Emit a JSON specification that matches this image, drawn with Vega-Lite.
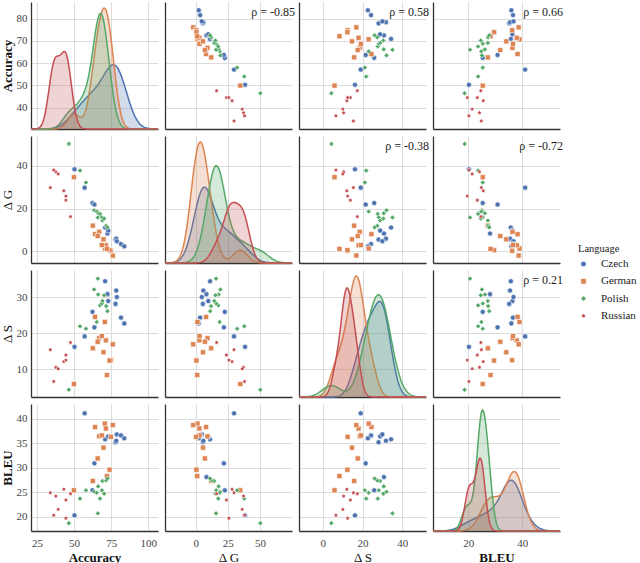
{
"$schema":"https://vega.github.io/schema/vega-lite/v6.json",
"padding":{"left":1,"top":2,"right":0,"bottom":0},
"data":{"values":[
{"Language":"Czech","Accuracy":50.3,"DG":38.4,"DS":16.2,"BLEU":20.3},
{"Language":"Czech","Accuracy":57.1,"DG":29.8,"DS":19.1,"BLEU":41.1},
{"Language":"Czech","Accuracy":62.4,"DG":22.6,"DS":25.9,"BLEU":25.4},
{"Language":"Czech","Accuracy":63.7,"DG":21.9,"DS":21.6,"BLEU":30.9},
{"Language":"Czech","Accuracy":70.9,"DG":11.1,"DS":34.4,"BLEU":35.8},
{"Language":"Czech","Accuracy":72.5,"DG":8.3,"DS":30.8,"BLEU":28.1},
{"Language":"Czech","Accuracy":73.0,"DG":9.7,"DS":28.9,"BLEU":36.4},
{"Language":"Czech","Accuracy":77.9,"DG":5.5,"DS":28.1,"BLEU":35.2},
{"Language":"Czech","Accuracy":78.4,"DG":5.9,"DS":31.8,"BLEU":35.5},
{"Language":"Czech","Accuracy":78.8,"DG":4.7,"DS":30.0,"BLEU":36.8},
{"Language":"Czech","Accuracy":81.6,"DG":3.4,"DS":24.3,"BLEU":36.6},
{"Language":"Czech","Accuracy":83.8,"DG":2.3,"DS":22.7,"BLEU":36.0},
{"Language":"German","Accuracy":64.1,"DG":8.0,"DS":24.5,"BLEU":38.3},
{"Language":"German","Accuracy":70.7,"DG":1.3,"DS":23.1,"BLEU":39.0},
{"Language":"German","Accuracy":71.4,"DG":2.8,"DS":18.0,"BLEU":38.0},
{"Language":"German","Accuracy":76.1,"DG":-2.0,"DS":16.9,"BLEU":38.7},
{"Language":"German","Accuracy":66.9,"DG":9.1,"DS":18.6,"BLEU":36.4},
{"Language":"German","Accuracy":68.7,"DG":2.9,"DS":19.2,"BLEU":36.6},
{"Language":"German","Accuracy":74.8,"DG":0.2,"DS":12.5,"BLEU":36.3},
{"Language":"German","Accuracy":69.8,"DG":5.6,"DS":14.7,"BLEU":34.1},
{"Language":"German","Accuracy":65.9,"DG":7.1,"DS":17.6,"BLEU":31.9},
{"Language":"German","Accuracy":73.9,"DG":0.5,"DS":12.4,"BLEU":29.6},
{"Language":"German","Accuracy":72.1,"DG":1.1,"DS":8.4,"BLEU":28.3},
{"Language":"German","Accuracy":62.6,"DG":12.0,"DS":15.8,"BLEU":27.3},
{"Language":"German","Accuracy":49.9,"DG":34.7,"DS":5.9,"BLEU":25.4},
{"Language":"Polish","Accuracy":46.5,"DG":50.3,"DS":4.3,"BLEU":18.7},
{"Language":"Polish","Accuracy":54.0,"DG":37.8,"DS":21.9,"BLEU":23.7},
{"Language":"Polish","Accuracy":58.0,"DG":32.2,"DS":21.2,"BLEU":25.4},
{"Language":"Polish","Accuracy":63.5,"DG":19.2,"DS":32.1,"BLEU":25.1},
{"Language":"Polish","Accuracy":65.3,"DG":18.6,"DS":23.1,"BLEU":24.9},
{"Language":"Polish","Accuracy":66.2,"DG":17.8,"DS":30.7,"BLEU":26.2},
{"Language":"Polish","Accuracy":66.0,"DG":15.8,"DS":35.1,"BLEU":20.7},
{"Language":"Polish","Accuracy":67.5,"DG":17.5,"DS":27.7,"BLEU":23.7},
{"Language":"Polish","Accuracy":68.7,"DG":15.9,"DS":28.2,"BLEU":25.4},
{"Language":"Polish","Accuracy":69.1,"DG":14.4,"DS":28.9,"BLEU":27.3},
{"Language":"Polish","Accuracy":70.2,"DG":15.3,"DS":30.5,"BLEU":24.7},
{"Language":"Polish","Accuracy":71.6,"DG":11.9,"DS":27.5,"BLEU":27.4},
{"Language":"Polish","Accuracy":72.5,"DG":11.2,"DS":26.1,"BLEU":27.8},
{"Language":"Russian","Accuracy":34.0,"DG":29.8,"DS":15.4,"BLEU":24.9},
{"Language":"Russian","Accuracy":37.7,"DG":37.2,"DS":10.5,"BLEU":24.2},
{"Language":"Russian","Accuracy":43.1,"DG":28.3,"DS":12.1,"BLEU":25.6},
{"Language":"Russian","Accuracy":44.5,"DG":23.9,"DS":13.9,"BLEU":23.4},
{"Language":"Russian","Accuracy":47.6,"DG":16.2,"DS":17.4,"BLEU":24.7},
{"Language":"Russian","Accuracy":39.3,"DG":36.2,"DS":10.1,"BLEU":21.5},
{"Language":"Russian","Accuracy":36.3,"DG":38.0,"DS":6.6,"BLEU":20.3},
{"Language":"Russian","Accuracy":44.5,"DG":25.8,"DS":12.5,"BLEU":19.7}
]},
"columns":4,
"bounds":"flush",
"spacing":{"row":7,"column":7},
"concat":[
{"width":127,"height":127,"layer":[
 {"mark":{"type":"point","opacity":0},"encoding":{"x":{"field":"Accuracy","type":"quantitative","scale":{"domain":[21,106.5],"nice":false,"zero":false},"axis":{"values":[25,50,75,100],"labels":false,"title":null}},"y":{"field":"Accuracy","type":"quantitative","scale":{"domain":[30.4,87.5],"nice":false,"zero":false},"axis":{"values":[40,50,60,70,80],"title":"Accuracy","titleFontWeight":"bold"}}}},
 {"encoding":{"x":{"field":"value","type":"quantitative","scale":{"domain":[21,106.5],"nice":false,"zero":false},"axis":{"values":[25,50,75,100],"labels":false,"title":null}},"y":{"field":"density","type":"quantitative","stack":null,"scale":{"zero":true,"nice":false,"range":[127,6]},"axis":null}},
  "layer":[
   {"transform":[{"filter":"datum.Language==='Czech'"},{"density":"Accuracy","bandwidth":6.34,"extent":[21,106.5],"counts":true,"steps":200}],"layer":[{"mark":{"type":"area","opacity":0.25,"color":"#4C72B0"}},{"mark":{"type":"line","strokeWidth":1.5,"color":"#4C72B0"}}]},
   {"transform":[{"filter":"datum.Language==='German'"},{"density":"Accuracy","bandwidth":4.10,"extent":[21,106.5],"counts":true,"steps":200}],"layer":[{"mark":{"type":"area","opacity":0.25,"color":"#DD8452"}},{"mark":{"type":"line","strokeWidth":1.5,"color":"#DD8452"}}]},
   {"transform":[{"filter":"datum.Language==='Polish'"},{"density":"Accuracy","bandwidth":4.50,"extent":[21,106.5],"counts":true,"steps":200}],"layer":[{"mark":{"type":"area","opacity":0.25,"color":"#55A868"}},{"mark":{"type":"line","strokeWidth":1.5,"color":"#55A868"}}]},
   {"transform":[{"filter":"datum.Language==='Russian'"},{"density":"Accuracy","bandwidth":3.13,"extent":[21,106.5],"counts":true,"steps":200}],"layer":[{"mark":{"type":"area","opacity":0.25,"color":"#C44E52"}},{"mark":{"type":"line","strokeWidth":1.5,"color":"#C44E52"}}]}
  ]}
 ],"resolve":{"scale":{"y":"independent"}}},
{"width":127,"height":127,"layer":[
 {"mark":{"type":"point","filled":true,"opacity":1,"stroke":"white","strokeWidth":0.6,"size":26},"encoding":{"x":{"field":"DG","type":"quantitative","scale":{"domain":[-24,75],"nice":false,"zero":false},"axis":{"values":[0,25,50],"labels":false,"title":null}},"y":{"field":"Accuracy","type":"quantitative","scale":{"domain":[30.4,87.5],"nice":false,"zero":false},"axis":{"values":[40,50,60,70,80],"labels":false,"title":null}},"color":{"field":"Language","type":"nominal","scale":{"domain":["Czech","German","Polish","Russian"],"range":["#4C72B0","#DD8452","#55A868","#C44E52"]},"legend":{"title":"Language","orient":"none","legendX":547,"legendY":242,"labelOffset":12}},"shape":{"field":"Language","type":"nominal","scale":{"domain":["Czech","German","Polish","Russian"],"range":["circle","square","diamond","M0,-0.8L0.76,-0.25L0.47,0.65L-0.47,0.65L-0.76,-0.25Z"]},"legend":{"title":"Language","orient":"none","legendX":547,"legendY":242,"labelOffset":12}}}},
 {"data":{"values":[{"t":"ρ = -0.85"}]},"mark":{"type":"text","align":"right","baseline":"middle","dx":3,"dy":10,"fontSize":12,"font":"Liberation Serif","color":"#222"},"encoding":{"x":{"datum":75,"type":"quantitative","axis":{"values":[0,25,50],"labels":false,"title":null}},"y":{"datum":87.5,"type":"quantitative","axis":{"values":[40,50,60,70,80],"labels":false,"title":null}},"text":{"field":"t"}}}
]},
{"width":127,"height":127,"layer":[
 {"mark":{"type":"point","filled":true,"opacity":1,"stroke":"white","strokeWidth":0.6,"size":26},"encoding":{"x":{"field":"DS","type":"quantitative","scale":{"domain":[-12,52],"nice":false,"zero":false},"axis":{"values":[0,20,40],"labels":false,"title":null}},"y":{"field":"Accuracy","type":"quantitative","scale":{"domain":[30.4,87.5],"nice":false,"zero":false},"axis":{"values":[40,50,60,70,80],"labels":false,"title":null}},"color":{"field":"Language","type":"nominal","legend":{"title":"Language","orient":"none","legendX":547,"legendY":242,"labelOffset":12}},"shape":{"field":"Language","type":"nominal","legend":{"title":"Language","orient":"none","legendX":547,"legendY":242,"labelOffset":12}}}},
 {"data":{"values":[{"t":"ρ = 0.58"}]},"mark":{"type":"text","align":"right","baseline":"middle","dx":3,"dy":10,"fontSize":12,"font":"Liberation Serif","color":"#222"},"encoding":{"x":{"datum":52,"type":"quantitative","axis":{"values":[0,20,40],"labels":false,"title":null}},"y":{"datum":87.5,"type":"quantitative","axis":{"values":[40,50,60,70,80],"labels":false,"title":null}},"text":{"field":"t"}}}
]},
{"width":127,"height":127,"layer":[
 {"mark":{"type":"point","filled":true,"opacity":1,"stroke":"white","strokeWidth":0.6,"size":26},"encoding":{"x":{"field":"BLEU","type":"quantitative","scale":{"domain":[7,54],"nice":false,"zero":false},"axis":{"values":[20,40],"labels":false,"title":null}},"y":{"field":"Accuracy","type":"quantitative","scale":{"domain":[30.4,87.5],"nice":false,"zero":false},"axis":{"values":[40,50,60,70,80],"labels":false,"title":null}},"color":{"field":"Language","type":"nominal","legend":{"title":"Language","orient":"none","legendX":547,"legendY":242,"labelOffset":12}},"shape":{"field":"Language","type":"nominal","legend":{"title":"Language","orient":"none","legendX":547,"legendY":242,"labelOffset":12}}}},
 {"data":{"values":[{"t":"ρ = 0.66"}]},"mark":{"type":"text","align":"right","baseline":"middle","dx":3,"dy":10,"fontSize":12,"font":"Liberation Serif","color":"#222"},"encoding":{"x":{"datum":54,"type":"quantitative","axis":{"values":[20,40],"labels":false,"title":null}},"y":{"datum":87.5,"type":"quantitative","axis":{"values":[40,50,60,70,80],"labels":false,"title":null}},"text":{"field":"t"}}}
]},
{"width":127,"height":127,"mark":{"type":"point","filled":true,"opacity":1,"stroke":"white","strokeWidth":0.6,"size":26},"encoding":{"x":{"field":"Accuracy","type":"quantitative","scale":{"domain":[21,106.5],"nice":false,"zero":false},"axis":{"values":[25,50,75,100],"labels":false,"title":null}},"y":{"field":"DG","type":"quantitative","scale":{"domain":[-5.5,54],"nice":false,"zero":false},"axis":{"values":[0,20,40],"title":"Δ G"}},"color":{"field":"Language","type":"nominal","legend":{"title":"Language","orient":"none","legendX":547,"legendY":242,"labelOffset":12}},"shape":{"field":"Language","type":"nominal","legend":{"title":"Language","orient":"none","legendX":547,"legendY":242,"labelOffset":12}}}},
{"width":127,"height":127,"layer":[
 {"mark":{"type":"point","opacity":0},"encoding":{"x":{"field":"DG","type":"quantitative","scale":{"domain":[-24,75],"nice":false,"zero":false},"axis":{"values":[0,25,50],"labels":false,"title":null}},"y":{"field":"DG","type":"quantitative","scale":{"domain":[-5.5,54],"nice":false,"zero":false},"axis":{"values":[0,20,40],"labels":false,"title":null}}}},
 {"encoding":{"x":{"field":"value","type":"quantitative","scale":{"domain":[-24,75],"nice":false,"zero":false},"axis":{"values":[0,25,50],"labels":false,"title":null}},"y":{"field":"density","type":"quantitative","stack":null,"scale":{"zero":true,"nice":false,"range":[127,6]},"axis":null}},
  "layer":[
   {"transform":[{"filter":"datum.Language==='Czech'"},{"density":"DG","bandwidth":7.13,"extent":[-24,75],"counts":true,"steps":200}],"layer":[{"mark":{"type":"area","opacity":0.25,"color":"#4C72B0"}},{"mark":{"type":"line","strokeWidth":1.5,"color":"#4C72B0"}}]},
   {"transform":[{"filter":"datum.Language==='German'"},{"density":"DG","bandwidth":5.64,"extent":[-24,75],"counts":true,"steps":200}],"layer":[{"mark":{"type":"area","opacity":0.25,"color":"#DD8452"}},{"mark":{"type":"line","strokeWidth":1.5,"color":"#DD8452"}}]},
   {"transform":[{"filter":"datum.Language==='Polish'"},{"density":"DG","bandwidth":6.92,"extent":[-24,75],"counts":true,"steps":200}],"layer":[{"mark":{"type":"area","opacity":0.25,"color":"#55A868"}},{"mark":{"type":"line","strokeWidth":1.5,"color":"#55A868"}}]},
   {"transform":[{"filter":"datum.Language==='Russian'"},{"density":"DG","bandwidth":4.99,"extent":[-24,75],"counts":true,"steps":200}],"layer":[{"mark":{"type":"area","opacity":0.25,"color":"#C44E52"}},{"mark":{"type":"line","strokeWidth":1.5,"color":"#C44E52"}}]}
  ]}
 ],"resolve":{"scale":{"y":"independent"}}},
{"width":127,"height":127,"layer":[
 {"mark":{"type":"point","filled":true,"opacity":1,"stroke":"white","strokeWidth":0.6,"size":26},"encoding":{"x":{"field":"DS","type":"quantitative","scale":{"domain":[-12,52],"nice":false,"zero":false},"axis":{"values":[0,20,40],"labels":false,"title":null}},"y":{"field":"DG","type":"quantitative","scale":{"domain":[-5.5,54],"nice":false,"zero":false},"axis":{"values":[0,20,40],"labels":false,"title":null}},"color":{"field":"Language","type":"nominal","legend":{"title":"Language","orient":"none","legendX":547,"legendY":242,"labelOffset":12}},"shape":{"field":"Language","type":"nominal","legend":{"title":"Language","orient":"none","legendX":547,"legendY":242,"labelOffset":12}}}},
 {"data":{"values":[{"t":"ρ = -0.38"}]},"mark":{"type":"text","align":"right","baseline":"middle","dx":3,"dy":10,"fontSize":12,"font":"Liberation Serif","color":"#222"},"encoding":{"x":{"datum":52,"type":"quantitative","axis":{"values":[0,20,40],"labels":false,"title":null}},"y":{"datum":54,"type":"quantitative","axis":{"values":[0,20,40],"labels":false,"title":null}},"text":{"field":"t"}}}
]},
{"width":127,"height":127,"layer":[
 {"mark":{"type":"point","filled":true,"opacity":1,"stroke":"white","strokeWidth":0.6,"size":26},"encoding":{"x":{"field":"BLEU","type":"quantitative","scale":{"domain":[7,54],"nice":false,"zero":false},"axis":{"values":[20,40],"labels":false,"title":null}},"y":{"field":"DG","type":"quantitative","scale":{"domain":[-5.5,54],"nice":false,"zero":false},"axis":{"values":[0,20,40],"labels":false,"title":null}},"color":{"field":"Language","type":"nominal","legend":{"title":"Language","orient":"none","legendX":547,"legendY":242,"labelOffset":12}},"shape":{"field":"Language","type":"nominal","legend":{"title":"Language","orient":"none","legendX":547,"legendY":242,"labelOffset":12}}}},
 {"data":{"values":[{"t":"ρ = -0.72"}]},"mark":{"type":"text","align":"right","baseline":"middle","dx":3,"dy":10,"fontSize":12,"font":"Liberation Serif","color":"#222"},"encoding":{"x":{"datum":54,"type":"quantitative","axis":{"values":[20,40],"labels":false,"title":null}},"y":{"datum":54,"type":"quantitative","axis":{"values":[0,20,40],"labels":false,"title":null}},"text":{"field":"t"}}}
]},
{"width":127,"height":127,"mark":{"type":"point","filled":true,"opacity":1,"stroke":"white","strokeWidth":0.6,"size":26},"encoding":{"x":{"field":"Accuracy","type":"quantitative","scale":{"domain":[21,106.5],"nice":false,"zero":false},"axis":{"values":[25,50,75,100],"labels":false,"title":null}},"y":{"field":"DS","type":"quantitative","scale":{"domain":[2.3,37.5],"nice":false,"zero":false},"axis":{"values":[10,20,30],"title":"Δ S"}},"color":{"field":"Language","type":"nominal","legend":{"title":"Language","orient":"none","legendX":547,"legendY":242,"labelOffset":12}},"shape":{"field":"Language","type":"nominal","legend":{"title":"Language","orient":"none","legendX":547,"legendY":242,"labelOffset":12}}}},
{"width":127,"height":127,"mark":{"type":"point","filled":true,"opacity":1,"stroke":"white","strokeWidth":0.6,"size":26},"encoding":{"x":{"field":"DG","type":"quantitative","scale":{"domain":[-24,75],"nice":false,"zero":false},"axis":{"values":[0,25,50],"labels":false,"title":null}},"y":{"field":"DS","type":"quantitative","scale":{"domain":[2.3,37.5],"nice":false,"zero":false},"axis":{"values":[10,20,30],"labels":false,"title":null}},"color":{"field":"Language","type":"nominal","legend":{"title":"Language","orient":"none","legendX":547,"legendY":242,"labelOffset":12}},"shape":{"field":"Language","type":"nominal","legend":{"title":"Language","orient":"none","legendX":547,"legendY":242,"labelOffset":12}}}},
{"width":127,"height":127,"layer":[
 {"mark":{"type":"point","opacity":0},"encoding":{"x":{"field":"DS","type":"quantitative","scale":{"domain":[-12,52],"nice":false,"zero":false},"axis":{"values":[0,20,40],"labels":false,"title":null}},"y":{"field":"DS","type":"quantitative","scale":{"domain":[2.3,37.5],"nice":false,"zero":false},"axis":{"values":[10,20,30],"labels":false,"title":null}}}},
 {"encoding":{"x":{"field":"value","type":"quantitative","scale":{"domain":[-12,52],"nice":false,"zero":false},"axis":{"values":[0,20,40],"labels":false,"title":null}},"y":{"field":"density","type":"quantitative","stack":null,"scale":{"zero":true,"nice":false,"range":[127,6]},"axis":null}},
  "layer":[
   {"transform":[{"filter":"datum.Language==='Czech'"},{"density":"DS","bandwidth":3.35,"extent":[-12,52],"counts":true,"steps":200}],"layer":[{"mark":{"type":"area","opacity":0.25,"color":"#4C72B0"}},{"mark":{"type":"line","strokeWidth":1.5,"color":"#4C72B0"}}]},
   {"transform":[{"filter":"datum.Language==='German'"},{"density":"DS","bandwidth":3.16,"extent":[-12,52],"counts":true,"steps":200}],"layer":[{"mark":{"type":"area","opacity":0.25,"color":"#DD8452"}},{"mark":{"type":"line","strokeWidth":1.5,"color":"#DD8452"}}]},
   {"transform":[{"filter":"datum.Language==='Polish'"},{"density":"DS","bandwidth":4.57,"extent":[-12,52],"counts":true,"steps":200}],"layer":[{"mark":{"type":"area","opacity":0.25,"color":"#55A868"}},{"mark":{"type":"line","strokeWidth":1.5,"color":"#55A868"}}]},
   {"transform":[{"filter":"datum.Language==='Russian'"},{"density":"DS","bandwidth":2.21,"extent":[-12,52],"counts":true,"steps":200}],"layer":[{"mark":{"type":"area","opacity":0.25,"color":"#C44E52"}},{"mark":{"type":"line","strokeWidth":1.5,"color":"#C44E52"}}]}
  ]}
 ],"resolve":{"scale":{"y":"independent"}}},
{"width":127,"height":127,"layer":[
 {"mark":{"type":"point","filled":true,"opacity":1,"stroke":"white","strokeWidth":0.6,"size":26},"encoding":{"x":{"field":"BLEU","type":"quantitative","scale":{"domain":[7,54],"nice":false,"zero":false},"axis":{"values":[20,40],"labels":false,"title":null}},"y":{"field":"DS","type":"quantitative","scale":{"domain":[2.3,37.5],"nice":false,"zero":false},"axis":{"values":[10,20,30],"labels":false,"title":null}},"color":{"field":"Language","type":"nominal","legend":{"title":"Language","orient":"none","legendX":547,"legendY":242,"labelOffset":12}},"shape":{"field":"Language","type":"nominal","legend":{"title":"Language","orient":"none","legendX":547,"legendY":242,"labelOffset":12}}}},
 {"data":{"values":[{"t":"ρ = 0.21"}]},"mark":{"type":"text","align":"right","baseline":"middle","dx":3,"dy":10,"fontSize":12,"font":"Liberation Serif","color":"#222"},"encoding":{"x":{"datum":54,"type":"quantitative","axis":{"values":[20,40],"labels":false,"title":null}},"y":{"datum":37.5,"type":"quantitative","axis":{"values":[10,20,30],"labels":false,"title":null}},"text":{"field":"t"}}}
]},
{"width":127,"height":127,"mark":{"type":"point","filled":true,"opacity":1,"stroke":"white","strokeWidth":0.6,"size":26},"encoding":{"x":{"field":"Accuracy","type":"quantitative","scale":{"domain":[21,106.5],"nice":false,"zero":false},"axis":{"values":[25,50,75,100],"title":"Accuracy","titleFontWeight":"bold"}},"y":{"field":"BLEU","type":"quantitative","scale":{"domain":[17.1,43],"nice":false,"zero":false},"axis":{"values":[20,25,30,35,40],"title":"BLEU","titleFontWeight":"bold"}},"color":{"field":"Language","type":"nominal","legend":{"title":"Language","orient":"none","legendX":547,"legendY":242,"labelOffset":12}},"shape":{"field":"Language","type":"nominal","legend":{"title":"Language","orient":"none","legendX":547,"legendY":242,"labelOffset":12}}}},
{"width":127,"height":127,"mark":{"type":"point","filled":true,"opacity":1,"stroke":"white","strokeWidth":0.6,"size":26},"encoding":{"x":{"field":"DG","type":"quantitative","scale":{"domain":[-24,75],"nice":false,"zero":false},"axis":{"values":[0,25,50],"title":"Δ G"}},"y":{"field":"BLEU","type":"quantitative","scale":{"domain":[17.1,43],"nice":false,"zero":false},"axis":{"values":[20,25,30,35,40],"labels":false,"title":null}},"color":{"field":"Language","type":"nominal","legend":{"title":"Language","orient":"none","legendX":547,"legendY":242,"labelOffset":12}},"shape":{"field":"Language","type":"nominal","legend":{"title":"Language","orient":"none","legendX":547,"legendY":242,"labelOffset":12}}}},
{"width":127,"height":127,"mark":{"type":"point","filled":true,"opacity":1,"stroke":"white","strokeWidth":0.6,"size":26},"encoding":{"x":{"field":"DS","type":"quantitative","scale":{"domain":[-12,52],"nice":false,"zero":false},"axis":{"values":[0,20,40],"title":"Δ S"}},"y":{"field":"BLEU","type":"quantitative","scale":{"domain":[17.1,43],"nice":false,"zero":false},"axis":{"values":[20,25,30,35,40],"labels":false,"title":null}},"color":{"field":"Language","type":"nominal","legend":{"title":"Language","orient":"none","legendX":547,"legendY":242,"labelOffset":12}},"shape":{"field":"Language","type":"nominal","legend":{"title":"Language","orient":"none","legendX":547,"legendY":242,"labelOffset":12}}}},
{"width":127,"height":127,"layer":[
 {"mark":{"type":"point","opacity":0},"encoding":{"x":{"field":"BLEU","type":"quantitative","scale":{"domain":[7,54],"nice":false,"zero":false},"axis":{"values":[20,40],"title":"BLEU","titleFontWeight":"bold"}},"y":{"field":"BLEU","type":"quantitative","scale":{"domain":[17.1,43],"nice":false,"zero":false},"axis":{"values":[20,25,30,35,40],"labels":false,"title":null}}}},
 {"encoding":{"x":{"field":"value","type":"quantitative","scale":{"domain":[7,54],"nice":false,"zero":false},"axis":{"values":[20,40],"title":"BLEU","titleFontWeight":"bold"}},"y":{"field":"density","type":"quantitative","stack":null,"scale":{"zero":true,"nice":false,"range":[127,6]},"axis":null}},
  "layer":[
   {"transform":[{"filter":"datum.Language==='Czech'"},{"density":"BLEU","bandwidth":3.57,"extent":[7,54],"counts":true,"steps":200}],"layer":[{"mark":{"type":"area","opacity":0.25,"color":"#4C72B0"}},{"mark":{"type":"line","strokeWidth":1.5,"color":"#4C72B0"}}]},
   {"transform":[{"filter":"datum.Language==='German'"},{"density":"BLEU","bandwidth":2.86,"extent":[7,54],"counts":true,"steps":200}],"layer":[{"mark":{"type":"area","opacity":0.25,"color":"#DD8452"}},{"mark":{"type":"line","strokeWidth":1.5,"color":"#DD8452"}}]},
   {"transform":[{"filter":"datum.Language==='Polish'"},{"density":"BLEU","bandwidth":1.56,"extent":[7,54],"counts":true,"steps":200}],"layer":[{"mark":{"type":"area","opacity":0.25,"color":"#55A868"}},{"mark":{"type":"line","strokeWidth":1.5,"color":"#55A868"}}]},
   {"transform":[{"filter":"datum.Language==='Russian'"},{"density":"BLEU","bandwidth":1.48,"extent":[7,54],"counts":true,"steps":200}],"layer":[{"mark":{"type":"area","opacity":0.25,"color":"#C44E52"}},{"mark":{"type":"line","strokeWidth":1.5,"color":"#C44E52"}}]}
  ]}
 ],"resolve":{"scale":{"y":"independent"}}}
],
"config":{
 "view":{"stroke":null},
 "font":"Liberation Serif",
 "text":{"font":"Liberation Serif"},
 "axis":{"domainColor":"#333333","domainWidth":1.3,"gridColor":"#dcdcdc","gridWidth":1.1,"ticks":false,"labelFont":"Liberation Serif","labelFontSize":11,"labelColor":"#444444","labelPadding":4,"titleFont":"Liberation Serif","titleFontSize":13,"titleColor":"#111111","titleFontWeight":"normal","titlePadding":2},
 "axisX":{"labelPadding":6,"titlePadding":3},
 "legend":{"titleFont":"Liberation Serif","titleFontSize":10.5,"titleFontWeight":"normal","titleColor":"#222222","labelFont":"Liberation Serif","labelFontSize":11,"labelColor":"#222222","symbolSize":30,"labelOffset":12,"rowPadding":5.3,"titlePadding":4,"symbolStrokeColor":"white","symbolStrokeWidth":0.6}
}
}
